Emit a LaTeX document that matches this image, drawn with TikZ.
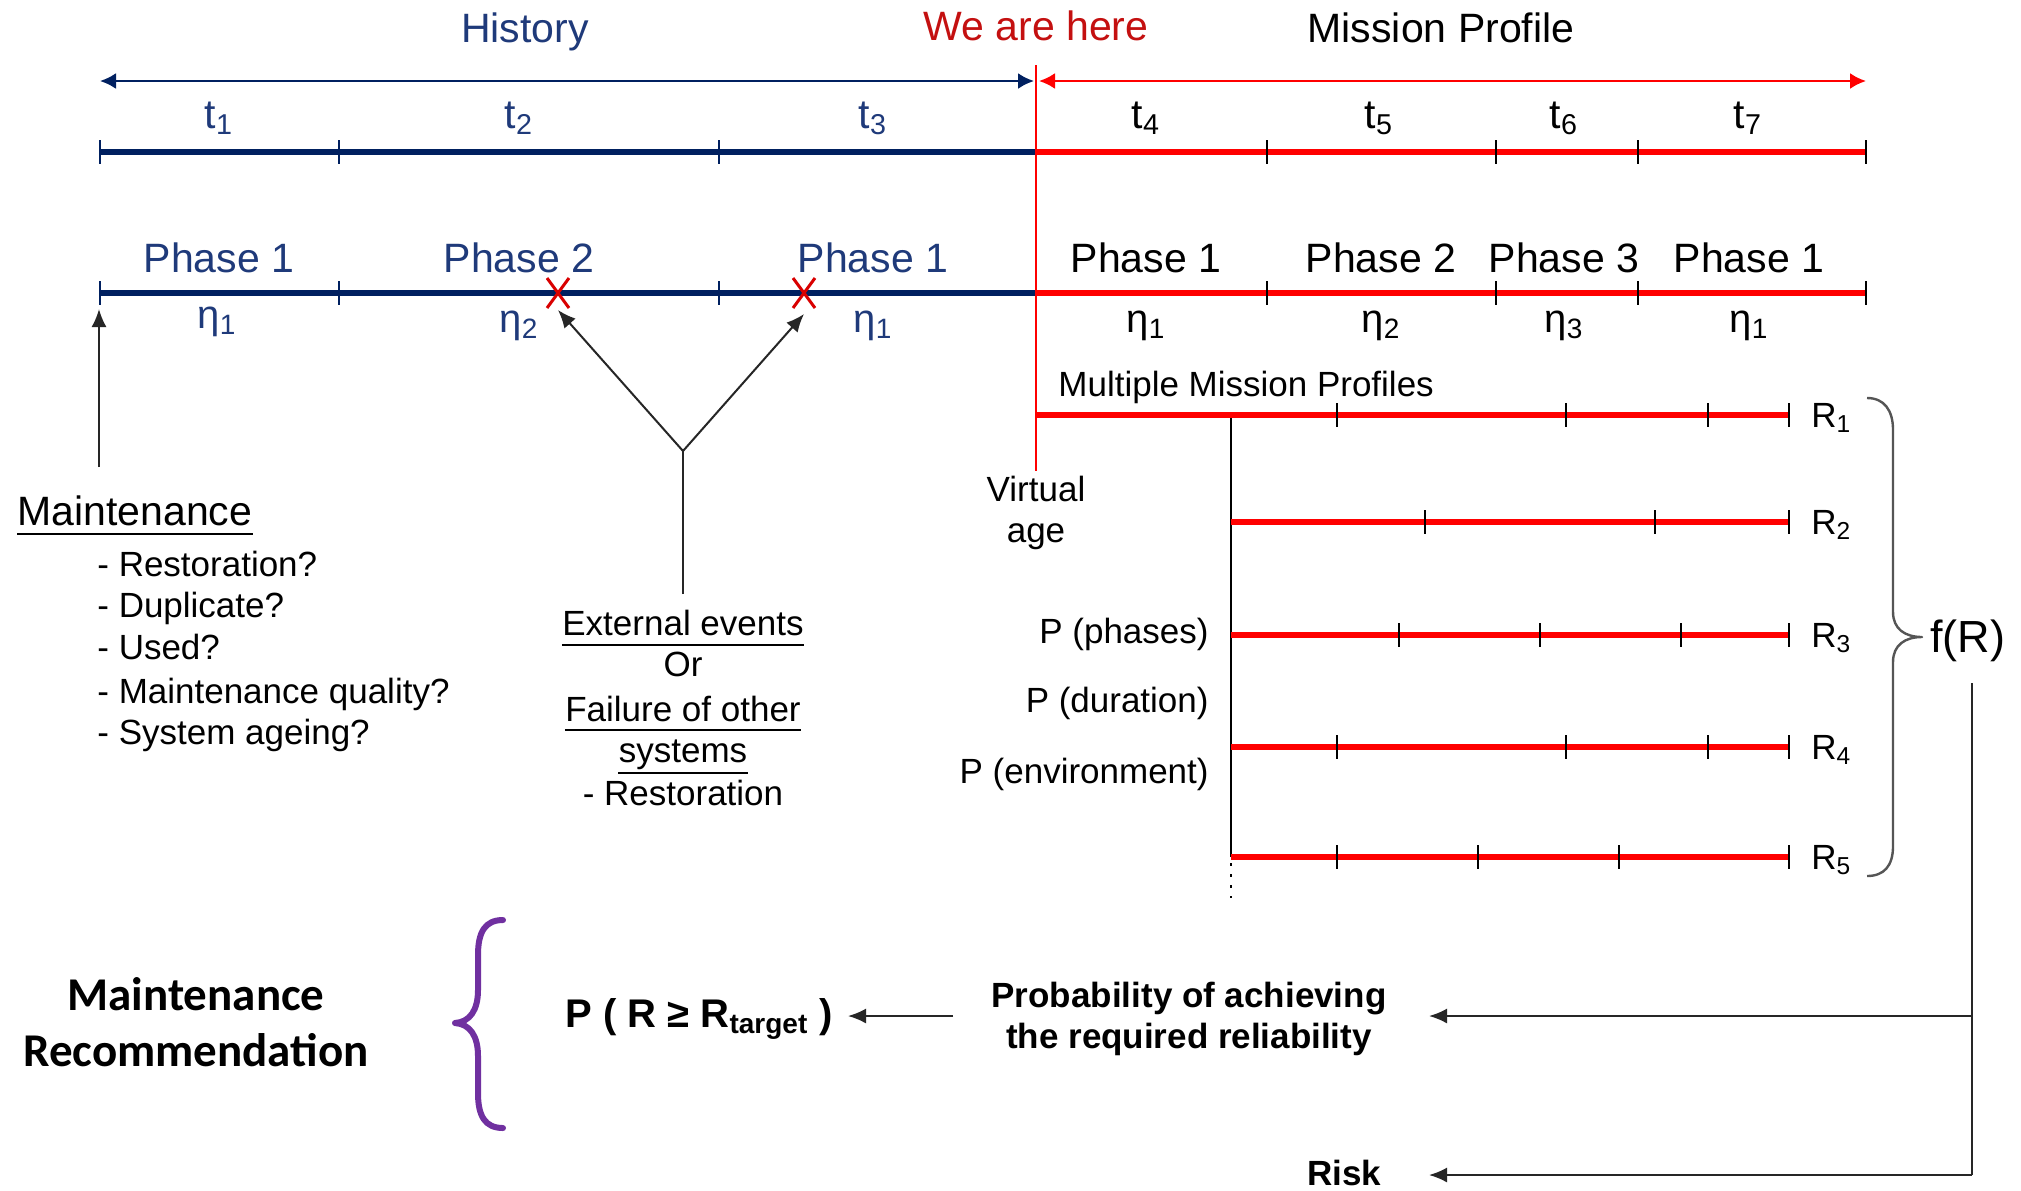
\documentclass[tikz,border=0pt]{standalone}
\usepackage{fontspec}
\setmainfont{Liberation Sans}
\newfontfamily\calibfont{Carlito}
\usetikzlibrary{arrows.meta}
\definecolor{navyline}{HTML}{002060}
\definecolor{navytext}{HTML}{1F3A7A}
\definecolor{redtext}{HTML}{C41010}
\definecolor{purp}{HTML}{7030A0}
\definecolor{bracegray}{HTML}{555555}
\begin{document}
\begin{tikzpicture}[x=0.5pt,y=-0.5pt,
  txt/.style={inner sep=0pt, anchor=base, font=\fontsize{17.5}{21}\selectfont},
  big/.style={inner sep=0pt, anchor=base, font=\fontsize{20.5}{24}\selectfont},
  eta/.style={inner sep=0pt, anchor=base, font=\fontsize{20}{24}\selectfont},
  boldtxt/.style={inner sep=0pt, anchor=base, font=\bfseries\fontsize{17.5}{21}\selectfont},
  axisB/.style={line width=3pt, navyline},
  axisR/.style={line width=3pt, red},
  tickB/.style={line width=0.9pt, navyline},
  tickK/.style={line width=0.9pt, black},
  redx/.style={line width=1.5pt, red!85!black},
  conn/.style={line width=1pt, black!85, -{Latex[length=9pt,width=7.5pt]}},
  plain/.style={line width=1pt, black!85},
  uline/.style={line width=1pt, black},
  dblB/.style={line width=1.2pt, navyline, {Latex[length=8pt,width=8pt]}-{Latex[length=8pt,width=8pt]}},
  dblR/.style={line width=1.2pt, red, {Latex[length=8pt,width=8pt]}-{Latex[length=8pt,width=8pt]}},
]
\useasboundingbox[fill=white] (0,0) rectangle (2021,1190);

% ---------- titles ----------
\node[big, navytext] (hist) at (525,42) {History};
\node[big, redtext] (here) at (1036,40) {We are here};
\node[big] (mprof) at (1441,42) {Mission Profile};

% ---------- top double arrows ----------
\coordinate (a0) at (100,81);
\coordinate (a1) at (1034,81);
\coordinate (a2) at (1039,81);
\coordinate (a3) at (1866,81);
\draw[dblB] (a0) -- (a1);
\draw[dblR] (a2) -- (a3);

% ---------- time axis ----------
\coordinate (ta0) at (100,152);
\coordinate (ta1) at (1036,152);
\coordinate (ta2) at (1866,152);
\draw[axisB] (ta0) -- (ta1);
\draw[axisR] (ta1) -- (ta2);
\foreach \x in {100,339,719} \draw[tickB] (\x,140) -- (\x,164);
\foreach \x in {1267,1496,1638,1866} \draw[tickK] (\x,140) -- (\x,164);

\node[big, navytext] (t1) at (219,128) {t\textsubscript{1}};
\node[big, navytext] (t2) at (519,128) {t\textsubscript{2}};
\node[big, navytext] (t3) at (873,128) {t\textsubscript{3}};
\node[big] (t4) at (1146,128) {t\textsubscript{4}};
\node[big] (t5) at (1379,128) {t\textsubscript{5}};
\node[big] (t6) at (1564,128) {t\textsubscript{6}};
\node[big] (t7) at (1748,128) {t\textsubscript{7}};

% ---------- phase axis ----------
\coordinate (pa0) at (100,293);
\coordinate (pa1) at (1036,293);
\coordinate (pa2) at (1866,293);
\draw[axisB] (pa0) -- (pa1);
\draw[axisR] (pa1) -- (pa2);
\foreach \x in {100,339,719} \draw[tickB] (\x,281) -- (\x,305);
\foreach \x in {1267,1496,1638,1866} \draw[tickK] (\x,281) -- (\x,305);

\node[big, navytext] (ph1) at (219,272) {Phase 1};
\node[big, navytext] (ph2) at (519,272) {Phase 2};
\node[big, navytext] (ph3) at (873,272) {Phase 1};
\node[big] (ph4) at (1146,272) {Phase 1};
\node[big] (ph5) at (1381,272) {Phase 2};
\node[big] (ph6) at (1564,272) {Phase 3};
\node[big] (ph7) at (1749,272) {Phase 1};

\node[eta, navytext] (e1) at (217,328) {η\textsubscript{1}};
\node[eta, navytext] (e2) at (519,332) {η\textsubscript{2}};
\node[eta, navytext] (e3) at (873,332) {η\textsubscript{1}};
\node[eta] (e4) at (1146,332) {η\textsubscript{1}};
\node[eta] (e5) at (1381,332) {η\textsubscript{2}};
\node[eta] (e6) at (1564,332) {η\textsubscript{3}};
\node[eta] (e7) at (1749,332) {η\textsubscript{1}};

% failure crosses
\coordinate (xa) at (558,293);
\coordinate (xb) at (804,293);
\foreach \c in {xa,xb}{
  \draw[redx] ([shift={(-11,-15)}]\c) -- ([shift={(11,15)}]\c);
  \draw[redx] ([shift={(-11,15)}]\c) -- ([shift={(11,-15)}]\c);
}

% ---------- "we are here" vertical ----------
\coordinate (vt) at (1036,65);
\coordinate (vb) at (1036,471);
\draw[red, line width=1pt] (vt) -- (vb);

% ---------- maintenance (history) ----------
\node[big, anchor=base west] (maint) at (17,525) {Maintenance};
\draw[uline] ([yshift=-4.5pt]maint.base west) -- ([yshift=-4.5pt]maint.base east);
\coordinate (mA) at (99,467);
\coordinate (mB) at (99,309);
\draw[conn] (mA) -- (mB);

\node[txt, anchor=base west] (b1) at (97,576) {- Restoration?};
\node[txt, anchor=base west] (b2) at (97,617) {- Duplicate?};
\node[txt, anchor=base west] (b3) at (97,659) {- Used?};
\node[txt, anchor=base west] (b4) at (97,703) {- Maintenance quality?};
\node[txt, anchor=base west] (b5) at (97,744) {- System ageing?};

% ---------- external events ----------
\coordinate (vv) at (683,451);
\coordinate (vs) at (683,594);
\coordinate (tipA) at (558,310);
\coordinate (tipB) at (804,314);
\draw[plain] (vs) -- (vv);
\draw[conn] (vv) -- (tipA);
\draw[conn] (vv) -- (tipB);

\node[txt] (ex1) at (683,635) {External events};
\node[txt] (ex2) at (683,676) {Or};
\node[txt] (ex3) at (683,721) {Failure of other};
\node[txt] (ex4) at (683,762) {systems};
\node[txt] (ex5) at (683,805) {- Restoration};
\draw[uline] ([yshift=-5pt]ex1.base west) -- ([yshift=-5pt]ex1.base east);
\draw[uline] ([yshift=-4.5pt]ex3.base west) -- ([yshift=-4.5pt]ex3.base east);
\draw[uline] ([yshift=-5.5pt]ex4.base west) -- ([yshift=-5.5pt]ex4.base east);

% ---------- multiple mission profiles ----------
\node[txt, anchor=base west] (mmp) at (1058,396) {Multiple Mission Profiles};
\node[txt] (va1) at (1036,501) {Virtual};
\node[txt] (va2) at (1036,542) {age};
\node[txt, anchor=base east] (pp1) at (1209,643) {P (phases)};
\node[txt, anchor=base east] (pp2) at (1209,712) {P (duration)};
\node[txt, anchor=base east] (pp3) at (1209,783) {P (environment)};

\coordinate (r1s) at (1036,415);
\coordinate (r1e) at (1789,415);
\coordinate (r2s) at (1231,522);
\coordinate (r2e) at (1789,522);
\coordinate (r3s) at (1231,635);
\coordinate (r3e) at (1789,635);
\coordinate (r4s) at (1231,747);
\coordinate (r4e) at (1789,747);
\coordinate (r5s) at (1231,857);
\coordinate (r5e) at (1789,857);
\coordinate (rtop) at (1231,415);
\coordinate (rdot) at (1231,898);

\draw[plain, line width=0.9pt, black] (rtop) -- (r5s);
\draw[black, line width=1.2pt, dash pattern=on 1.5pt off 4pt] ([yshift=-3pt]r5s) -- (rdot);

\foreach \s/\e in {r1s/r1e,r2s/r2e,r3s/r3e,r4s/r4e,r5s/r5e} \draw[axisR] (\s) -- (\e);
\foreach \x in {1337,1566,1708,1789} \draw[tickK] (\x,403) -- (\x,427);
\foreach \x in {1425,1655,1789} \draw[tickK] (\x,510) -- (\x,534);
\foreach \x in {1399,1540,1681,1789} \draw[tickK] (\x,623) -- (\x,647);
\foreach \x in {1337,1566,1708,1789} \draw[tickK] (\x,735) -- (\x,759);
\foreach \x in {1337,1478,1619,1789} \draw[tickK] (\x,845) -- (\x,869);

\node[txt, anchor=base west] (R1) at (1811,427) {R\textsubscript{1}};
\node[txt, anchor=base west] (R2) at (1811,534) {R\textsubscript{2}};
\node[txt, anchor=base west] (R3) at (1811,647) {R\textsubscript{3}};
\node[txt, anchor=base west] (R4) at (1811,759) {R\textsubscript{4}};
\node[txt, anchor=base west] (R5) at (1811,869) {R\textsubscript{5}};

% right brace
\draw[bracegray, line width=1.2pt, line join=round]
  (1867,398) .. controls (1884,398) and (1893,410) .. (1893,430)
  -- (1893,612) .. controls (1893,629) and (1905,637) .. (1922,637)
  .. controls (1905,637) and (1893,645) .. (1893,662)
  -- (1893,846) .. controls (1893,866) and (1884,876) .. (1867,876);

\node[inner sep=0pt, anchor=base west, font=\fontsize{22.5}{26}\selectfont] (fR) at (1930,652) {f(R)};

% ---------- outputs ----------
\coordinate (fv0) at (1972,683);
\coordinate (fv1) at (1972,1016);
\coordinate (fv2) at (1972,1175);
\coordinate (probtip) at (1429,1016);
\coordinate (risktip) at (1429,1175);
\draw[plain] (fv0) -- (fv2);
\draw[conn] (fv1) -- (probtip);
\draw[conn] (fv2) -- (risktip);

\node[boldtxt] (prob1) at (1189,1007) {Probability of achieving};
\node[boldtxt] (prob2) at (1189,1048) {the required reliability};
\node[boldtxt, anchor=base west] (risk) at (1307,1185) {Risk};

\coordinate (pl0) at (953,1016);
\coordinate (pl1) at (848,1016);
\draw[conn] (pl0) -- (pl1);

\node[inner sep=0pt, anchor=base west, font=\bfseries\fontsize{20}{24}\selectfont] (prt) at (565,1027) {P ( R ≥ R\textsubscript{target} )};

% purple brace
\draw[purp, line width=3pt, line join=round, line cap=round]
  (503,920) .. controls (485,920) and (478,932) .. (478,955)
  -- (478,990) .. controls (478,1010) and (470,1022) .. (455,1023)
  .. controls (470,1024) and (478,1036) .. (478,1056)
  -- (478,1093) .. controls (478,1116) and (485,1128) .. (503,1128);

\node[inner sep=0pt, anchor=base, font=\calibfont\bfseries\fontsize{23.5}{28}\selectfont] (mr1) at (196,1010) {Maintenance};
\node[inner sep=0pt, anchor=base, font=\calibfont\bfseries\fontsize{23.5}{28}\selectfont] (mr2) at (196,1066) {Recommendation};

\end{tikzpicture}
\end{document}
